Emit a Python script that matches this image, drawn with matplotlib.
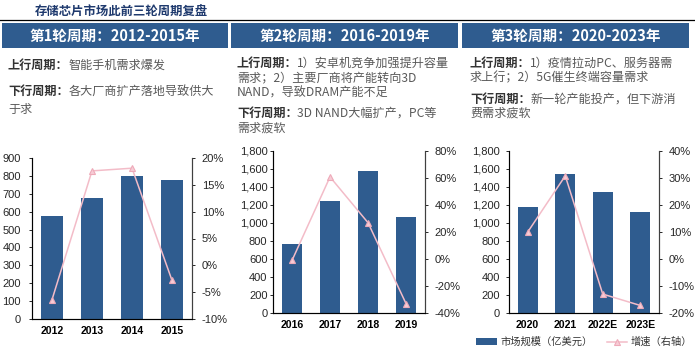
import matplotlib
matplotlib.use("Agg")
import matplotlib.pyplot as plt
from matplotlib.patches import Rectangle
from matplotlib.lines import Line2D
from matplotlib.ticker import FuncFormatter, MultipleLocator
from matplotlib.transforms import offset_copy

plt.rcParams['font.family'] = ['Liberation Sans', 'Noto Sans CJK SC', 'DejaVu Sans']

W, H = 695, 352
CJK = ['Noto Sans CJK SC', 'DejaVu Sans']
BLUE = '#2f5c8f'
PINK = '#f3bcc8'

title = '存储芯片市场此前三轮周期复盘'
headers = ['第1轮周期：2012-2015年', '第2轮周期：2016-2019年', '第3轮周期：2020-2023年']

# (bold lead, rest, y in pixels) per panel
texts1 = [('上行周期：', '智能手机需求爆发', 65),
          ('下行周期：', '各大厂商扩产落地导致供大', 91),
          ('', '于求', 110)]
texts2 = [('上行周期：', '1）安卓机竞争加强提升容量', 63),
          ('', '需求；2）主要厂商将产能转向3D', 78),
          ('', 'NAND，导致DRAM产能不足', 93),
          ('下行周期：', '3D NAND大幅扩产，PC等', 113),
          ('', '需求疲软', 128)]
texts3 = [('上行周期：', '1）疫情拉动PC、服务器需', 63),
          ('', '求上行；2）5G催生终端容量需求', 78),
          ('下行周期：', '新一轮产能投产，但下游消', 99),
          ('', '费需求疲软', 113)]

years1 = ['2012', '2013', '2014', '2015']
size1 = [573, 676, 798, 778]
growth1 = [-6.4, 17.6, 18.1, -2.8]

years2 = ['2016', '2017', '2018', '2019']
size2 = [767, 1243, 1582, 1066]
growth2 = [-1.1, 60.8, 26.9, -33.0]

years3 = ['2020', '2021', '2022E', '2023E']
size3 = [1177, 1546, 1346, 1121]
growth3 = [10.0, 30.8, -13.0, -17.2]

legend_labels = ['市场规模（亿美元）', '增速（右轴）']

fig = plt.figure(figsize=(W / 100, H / 100), dpi=100)

# title and rule
fig.text(35 / W, 1 - 11.5 / H, title, family=CJK, fontsize=8.9, fontweight='bold',
         color='#1f3a6e', ha='left', va='center')
fig.add_artist(Line2D([0, 1], [1 - 19.5 / H] * 2, color='black', lw=0.9))

# header boxes
boxes = [(2, 228), (231, 458), (462, 689)]
for (x0, x1), h in zip(boxes, headers):
    fig.add_artist(Rectangle((x0 / W, 1 - 48 / H), (x1 - x0) / W, 25.5 / H,
                             transform=fig.transFigure, color=BLUE, lw=0))
    fig.text((x0 + x1) / 2 / W, 1 - 35.5 / H, h, family=CJK, fontsize=10.5,
             fontweight='bold', color='white', ha='center', va='center')

# description texts: bold lead, then the rest shifted by the lead's width
fs = 8.7
for x, lines in zip([8, 237, 470], [texts1, texts2, texts3]):
    for lead, rest, y in lines:
        if lead:
            fig.text(x / W, 1 - y / H, lead, family=CJK, fontsize=fs, fontweight='bold',
                     color='#333333', ha='left', va='center')
        tr = offset_copy(fig.transFigure, fig=fig, x=fs * len(lead), y=0, units='points')
        fig.text(x / W, 1 - y / H, rest, transform=tr, family=CJK, fontsize=fs,
                 color='#595959', ha='left', va='center')


def make_chart(l, r, top, bottom, cats, sizes, growth, ylim, ystep, glim, gstep,
               comma, lpad):
    ax = fig.add_axes([l / W, 1 - bottom / H, (r - l) / W, (bottom - top) / H])
    x = list(range(len(cats)))
    bars = ax.bar(x, sizes, width=0.53, color=BLUE, zorder=2)
    ax.set_xlim(-0.5, len(cats) - 0.5)
    ax.set_ylim(*ylim)
    ax.yaxis.set_major_locator(MultipleLocator(ystep))
    if comma:
        ax.yaxis.set_major_formatter(FuncFormatter(lambda v, p: f'{v:,.0f}'))
    ax.set_xticks(x)
    ax.set_xticklabels(cats, fontweight='bold', fontsize=7.6)
    ax.tick_params(axis='x', length=0, pad=5)
    ax.tick_params(axis='y', length=2.5, width=0.7, labelsize=8, pad=lpad,
                   colors='#262626')
    ax.spines['top'].set_visible(False)
    for s in ['left', 'bottom', 'right']:
        ax.spines[s].set_color('#404040')
        ax.spines[s].set_linewidth(0.8)

    axt = ax.twinx()
    line, = axt.plot(x, growth, color=PINK, lw=1.1, marker='^', markersize=5,
                     markerfacecolor='#f7ccd6', markeredgecolor='#eeaab9',
                     markeredgewidth=0.8)
    axt.set_ylim(*glim)
    axt.yaxis.set_major_locator(MultipleLocator(gstep))
    axt.yaxis.set_major_formatter(FuncFormatter(lambda v, p: f'{v:.0f}%'))
    axt.tick_params(axis='y', length=2.5, width=0.7, labelsize=8, pad=4.5,
                    colors='#262626')
    axt.spines['top'].set_visible(False)
    axt.spines['right'].set_color('#404040')
    axt.spines['right'].set_linewidth(0.8)
    return bars, line


make_chart(32, 192, 158, 319, years1, size1, growth1, (0, 900), 100, (-10, 20), 5,
           False, 5.5)
make_chart(273, 425, 151, 313, years2, size2, growth2, (0, 1800), 200, (-40, 80), 20,
           True, 1.5)
bars, line = make_chart(509, 659, 151, 313, years3, size3, growth3, (0, 1800), 200,
                        (-20, 40), 10, True, 4)

leg = fig.legend([bars, line], legend_labels, loc='center left',
                 bbox_to_anchor=(476 / W, 1 - 342 / H), ncol=2, frameon=False,
                 prop={'family': CJK, 'size': 7.4}, handlelength=2.0,
                 handletextpad=0.35, columnspacing=1.4, borderpad=0,
                 borderaxespad=0)
for t in leg.get_texts():
    t.set_color('#333333')

fig.savefig('out.png', dpi=100)
